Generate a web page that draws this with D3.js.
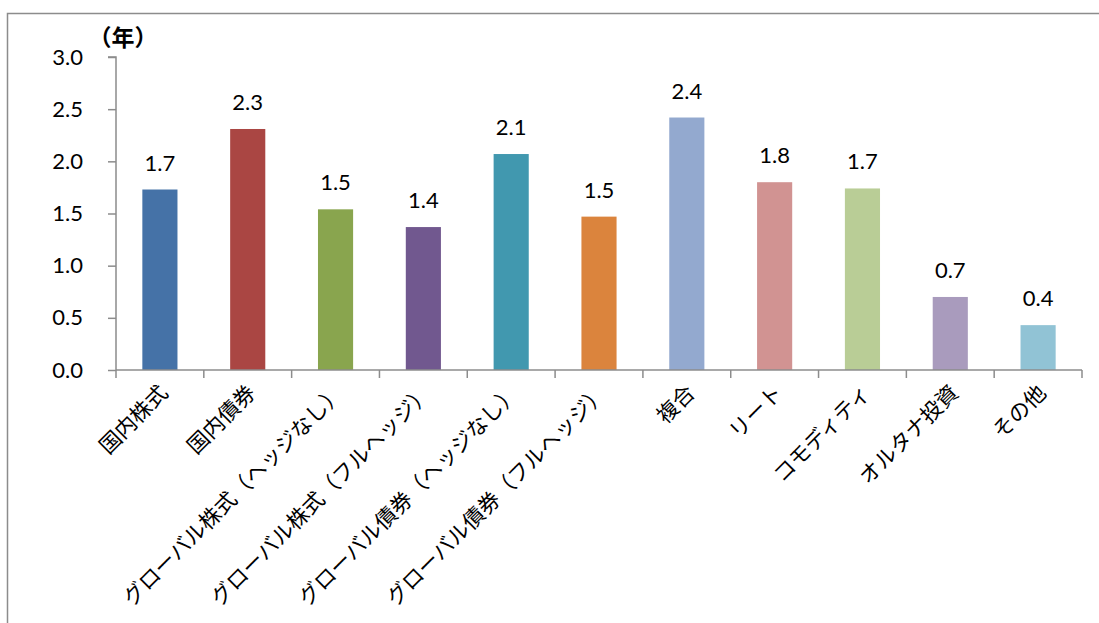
<!DOCTYPE html>
<html>
<head>
<meta charset="utf-8">
<script src="https://cdn.jsdelivr.net/npm/d3@7"></script>
<style>
  html, body { margin: 0; padding: 0; background: #fff; }
  svg { display: block; }
</style>
</head>
<body>
<svg id="chart" width="1099" height="623"></svg>
<script>
// Average holding period (years) by asset class
const categories = [
  "国内株式", "国内債券", "グローバル株式（ヘッジなし）", "グローバル株式（フルヘッジ）",
  "グローバル債券（ヘッジなし）", "グローバル債券（フルヘッジ）", "複合", "リート",
  "コモディティ", "オルタナ投資", "その他"
];
const values = [1.73, 2.31, 1.54, 1.37, 2.07, 1.47, 2.42, 1.80, 1.74, 0.70, 0.43];
const barColors = [
  "#4572A7", "#AA4643", "#89A54E", "#71588F", "#4198AF", "#DB843D",
  "#93A9CF", "#D19392", "#B9CD96", "#A99BBD", "#91C3D5"
];
const yTicks = [0, 0.5, 1.0, 1.5, 2.0, 2.5, 3.0];
const yUnit = "（年）";

const svg = d3.select("#chart");
const numFont = "Lato, 'Noto Sans', sans-serif";
const jpFont = "'Noto Sans CJK JP', sans-serif";

// outer frame (top and left edges visible)
svg.append("path")
  .attr("d", "M7.5,700 V13.5 H1200")
  .attr("fill", "none").attr("stroke", "#8c8c8c").attr("stroke-width", 1.5);

const plot = { left: 116, right: 1082, top: 57, bottom: 370 };

const x = d3.scaleBand().domain(categories).range([plot.left, plot.right]).paddingInner(0).paddingOuter(0);
const y = d3.scaleLinear().domain([0, 3]).range([plot.bottom, plot.top]);
const barW = x.bandwidth() / 2.5;

// bars
svg.append("g").selectAll("rect").data(values).join("rect")
  .attr("x", (d, i) => x(categories[i]) + (x.bandwidth() - barW) / 2)
  .attr("y", d => y(d))
  .attr("width", barW)
  .attr("height", d => y(0) - y(d))
  .attr("fill", (d, i) => barColors[i]);

// value labels
svg.append("g").selectAll("text").data(values).join("text")
  .attr("x", (d, i) => x(categories[i]) + x.bandwidth() / 2)
  .attr("y", d => y(d) - 19)
  .attr("text-anchor", "middle")
  .attr("font-family", numFont).attr("font-size", 22).attr("fill", "#000")
  .text(d => d3.format(".1f")(d));

// y axis
const yAxis = svg.append("g").attr("transform", `translate(${plot.left},0)`)
  .call(d3.axisLeft(y).tickValues(yTicks).tickFormat(d3.format(".1f")).tickSize(8).tickPadding(25));
yAxis.select(".domain").attr("stroke", "#8c8c8c").attr("stroke-width", 1.5).attr("d", `M-8,${plot.top}H0V${plot.bottom}`);
yAxis.selectAll(".tick line").attr("stroke", "#8c8c8c").attr("stroke-width", 1.5);
yAxis.selectAll(".tick text").attr("font-family", numFont).attr("font-size", 22).attr("fill", "#000");

// x axis
const xAxis = svg.append("g").attr("transform", `translate(0,${plot.bottom})`);
xAxis.append("line")
  .attr("x1", plot.left).attr("x2", plot.right)
  .attr("stroke", "#8c8c8c").attr("stroke-width", 1.5);
const edges = categories.map(c => x(c)).concat([plot.right]);
xAxis.selectAll("line.tk").data(edges).join("line").attr("class", "tk")
  .attr("x1", d => d).attr("x2", d => d).attr("y1", 0).attr("y2", 8)
  .attr("stroke", "#8c8c8c").attr("stroke-width", 1.5);

// rotated category labels
svg.append("g").selectAll("text").data(categories).join("text")
  .attr("transform", d => `translate(${x(d) + x.bandwidth() / 2 + 4},${plot.bottom + 19}) rotate(-45)`)
  .attr("text-anchor", "end")
  .attr("dy", "0.35em")
  .attr("font-family", jpFont).attr("font-size", 21.5).attr("fill", "#000")
  .text(d => d);

// unit label
svg.append("text")
  .attr("x", 123).attr("y", 46)
  .attr("text-anchor", "middle")
  .attr("font-family", jpFont).attr("font-size", 23).attr("font-weight", "bold").attr("fill", "#000")
  .text(yUnit);
</script>
</body>
</html>
